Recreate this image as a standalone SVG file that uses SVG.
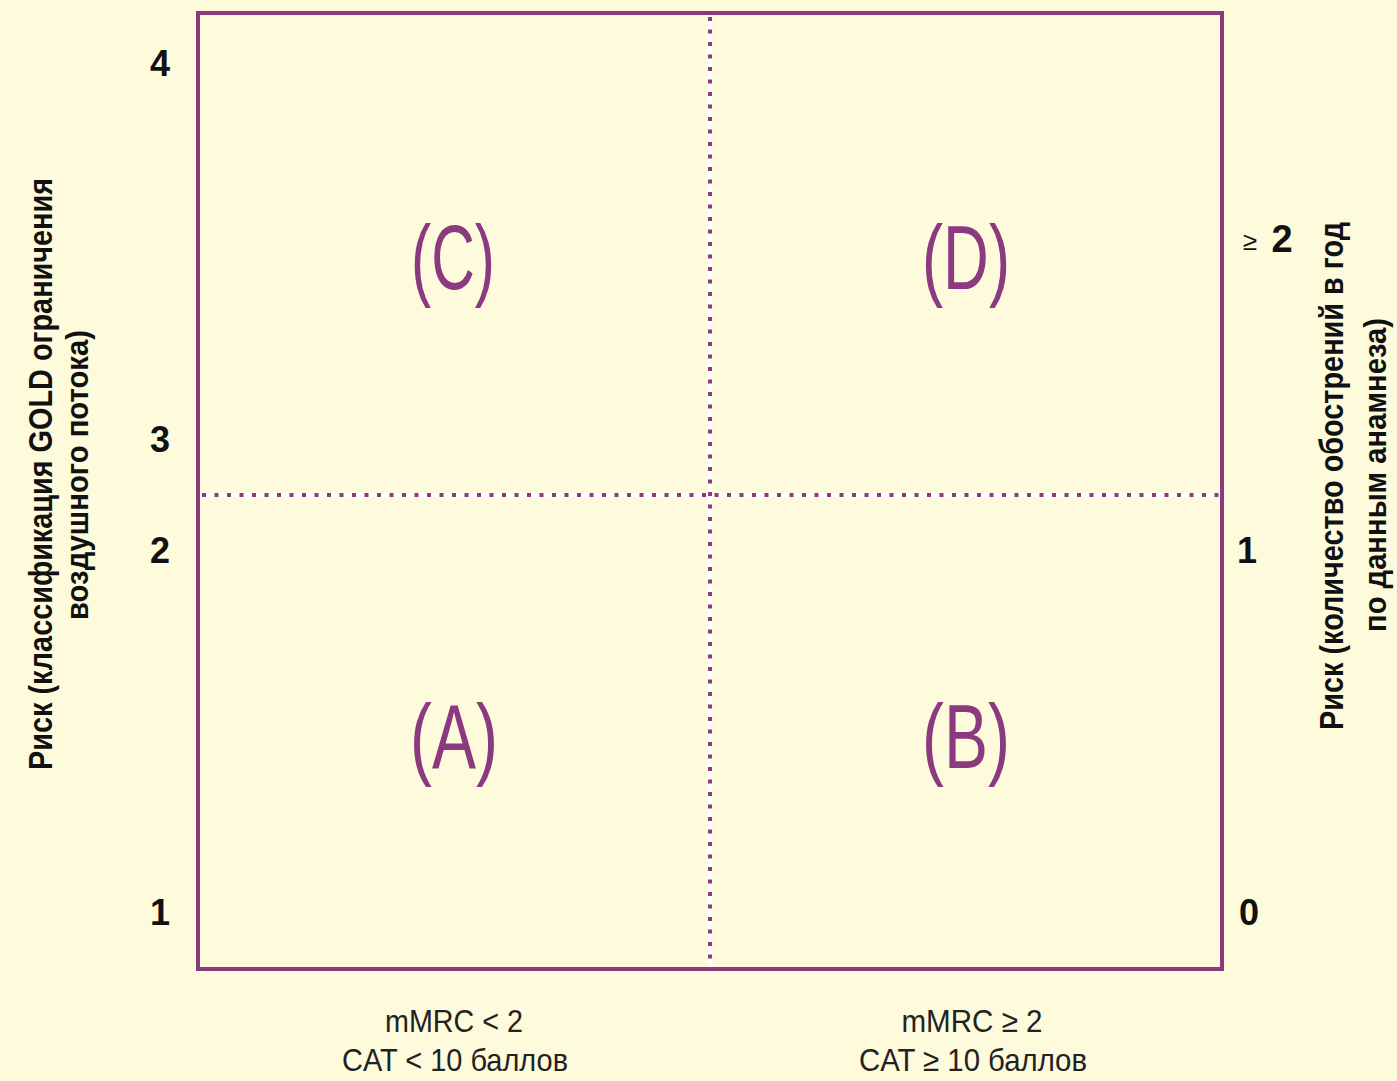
<svg xmlns="http://www.w3.org/2000/svg" width="1397" height="1081" viewBox="0 0 1397 1081">
<style>
.bg{fill:#fefadc}
.frame{fill:none;stroke:#8c3a80;stroke-width:4}
.dotbg{stroke:#ffffff;stroke-width:4}
.dot{stroke:#8c3a80;stroke-width:4;stroke-dasharray:4 8.5}
.q{font-family:"Liberation Sans",Arial,sans-serif;font-size:90px;fill:#8c3a80;text-anchor:middle}
.ax{font-family:"Liberation Sans",Arial,sans-serif;font-weight:bold;fill:#111;text-anchor:middle}
.bt{font-family:"Liberation Sans",Arial,sans-serif;font-size:32px;fill:#222;text-anchor:middle}
</style>
<rect class="bg" x="0" y="0" width="1397" height="1081"/>
<g id="connectors">
<line class="dotbg" x1="200" y1="495" x2="1220" y2="495"/>
<line class="dotbg" x1="710" y1="15" x2="710" y2="967"/>
<line class="dot" x1="202" y1="495" x2="1220" y2="495"/>
<line class="dot" x1="710" y1="17" x2="710" y2="967"/>
</g>
<g id="frame"><rect class="frame" x="198" y="13" width="1024" height="956"/></g>
<g id="quadC"><text class="q" x="453" y="289" textLength="84" lengthAdjust="spacingAndGlyphs">(C)</text></g>
<g id="quadD"><text class="q" x="966" y="289" textLength="88" lengthAdjust="spacingAndGlyphs">(D)</text></g>
<g id="quadA"><text class="q" x="454" y="768" textLength="88" lengthAdjust="spacingAndGlyphs">(A)</text></g>
<g id="quadB"><text class="q" x="966" y="768" textLength="88" lengthAdjust="spacingAndGlyphs">(B)</text></g>
<g id="leftAxis">
<text class="ax" font-size="36" x="160" y="76">4</text>
<text class="ax" font-size="36" x="160" y="452">3</text>
<text class="ax" font-size="36" x="160" y="563">2</text>
<text class="ax" font-size="36" x="160" y="925">1</text>
<text class="ax" font-size="34" transform="translate(52,474) rotate(-90)" x="0" y="0" textLength="592" lengthAdjust="spacingAndGlyphs">Риск (классификация GOLD ограничения</text>
<text class="ax" font-size="32" transform="translate(88,475) rotate(-90)" x="0" y="0" textLength="290" lengthAdjust="spacingAndGlyphs">воздушного потока)</text>
</g>
<g id="rightAxis">
<text font-family="Liberation Sans, Arial, sans-serif" font-size="26" fill="#111" text-anchor="middle" x="1250" y="250">≥</text>
<text class="ax" font-size="38" x="1282" y="252">2</text>
<text class="ax" font-size="36" x="1247" y="563">1</text>
<text class="ax" font-size="36" x="1249" y="925">0</text>
<text class="ax" font-size="34" transform="translate(1343,476) rotate(-90)" x="0" y="0" textLength="508" lengthAdjust="spacingAndGlyphs">Риск (количество обострений в год</text>
<text class="ax" font-size="32" transform="translate(1386,475) rotate(-90)" x="0" y="0" textLength="314" lengthAdjust="spacingAndGlyphs">по данным анамнеза)</text>
</g>
<g id="bottomLabels">
<text class="bt" x="454" y="1032" textLength="138" lengthAdjust="spacingAndGlyphs">mMRC &lt; 2</text>
<text class="bt" x="455" y="1071" textLength="226" lengthAdjust="spacingAndGlyphs">CAT &lt; 10 баллов</text>
<text class="bt" x="972" y="1032" textLength="141" lengthAdjust="spacingAndGlyphs">mMRC ≥ 2</text>
<text class="bt" x="973" y="1071" textLength="228" lengthAdjust="spacingAndGlyphs">CAT ≥ 10 баллов</text>
</g>
</svg>
